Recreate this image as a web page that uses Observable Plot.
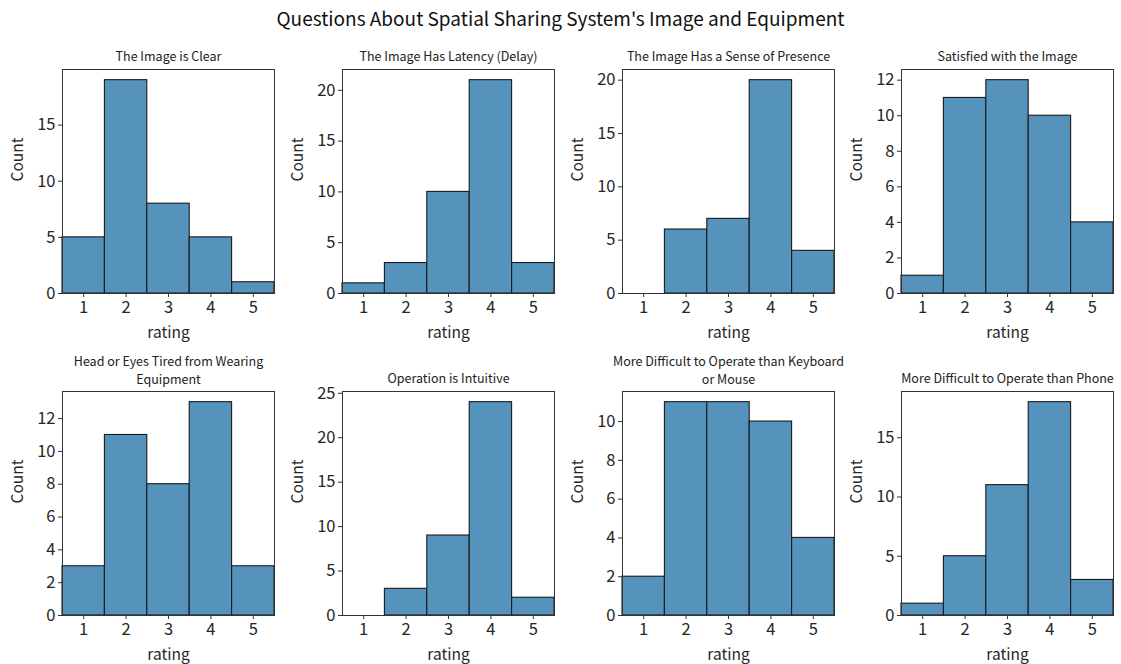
<!DOCTYPE html>
<html><head><meta charset="utf-8">
<script src="https://cdn.jsdelivr.net/npm/d3@7"></script>
<script src="https://cdn.jsdelivr.net/npm/@observablehq/plot@0.6"></script>
<style>
body{margin:0;background:#fff;}
#wrap{position:relative;width:1121px;height:664px;font-family:"Noto Sans CJK JP","Noto Sans",sans-serif;background:#fff;}
#title{position:absolute;left:0;width:1121px;top:4px;text-align:center;font-size:19px;color:#111;line-height:28px;}
.panel{position:absolute;}
.panel svg{overflow:visible;}
</style></head><body>
<div id="wrap"><div id="title">Questions About Spatial Sharing System's Image and Equipment</div></div>
<script>
const titles = [
  "The Image is Clear",
  "The Image Has Latency (Delay)",
  "The Image Has a Sense of Presence",
  "Satisfied with the Image",
  "Head or Eyes Tired from Wearing\nEquipment",
  "Operation is Intuitive",
  "More Difficult to Operate than Keyboard\nor Mouse",
  "More Difficult to Operate than Phone"
];
const ratings = [1, 2, 3, 4, 5];
const clearCounts = [5, 19, 8, 5, 1];
const latencyCounts = [1, 3, 10, 21, 3];
const presenceCounts = [0, 6, 7, 20, 4];
const satisfiedCounts = [1, 11, 12, 10, 4];
const tiredCounts = [3, 11, 8, 13, 3];
const intuitiveCounts = [0, 3, 9, 24, 2];
const keyboardCounts = [2, 11, 11, 10, 4];
const phoneCounts = [1, 5, 11, 18, 3];
const allCounts = [clearCounts, latencyCounts, presenceCounts, satisfiedCounts,
                   tiredCounts, intuitiveCounts, keyboardCounts, phoneCounts];
const xLabel = "rating";
const yLabel = "Count";

const FONT = '"Noto Sans CJK JP","Noto Sans",sans-serif';
const wrap = document.getElementById("wrap");
const colLeft = [0, 280, 560, 839];

allCounts.forEach((counts, i) => {
  const row = Math.floor(i / 4), col = i % 4;
  const data = ratings.map((r, j) => ({rating: r, count: counts[j]}));
  const maxC = d3.max(counts);
  const top = row === 0 ? 40 : 336;
  const marginTop = row === 0 ? 29 : 55;
  const multi = titles[i].includes("\n");
  const plot = Plot.plot({
    width: 280,
    height: marginTop + 224 + 50,
    marginLeft: 62, marginRight: 6, marginTop, marginBottom: 50,
    style: {fontFamily: FONT, fontSize: "16.5px", color: "#262626", background: "transparent", overflow: "visible"},
    x: {domain: [0.5, 5.5], label: null},
    y: {domain: [0, maxC * 1.05], label: null},
    marks: [
      Plot.rectY(data, {x1: d => d.rating - 0.5, x2: d => d.rating + 0.5, y1: 0, y2: "count",
        fill: "#5593bd", stroke: "#1a1a1a", strokeWidth: 1.1}),
      Plot.frame({stroke: "#333", strokeWidth: 1}),
      Plot.axisX({ticks: ratings, tickFormat: d => d, tickSize: 4, tickPadding: 4, label: null, stroke: "#333"}),
      Plot.axisY({ticks: 5, tickSize: 4, tickPadding: 3, label: null, stroke: "#333"}),
      Plot.text([xLabel], {text: d => d, frameAnchor: "bottom", dy: 40, lineAnchor: "middle", fontSize: 15.5, fill: "#262626"}),
      Plot.text([yLabel], {text: d => d, frameAnchor: "left", dx: -44, rotate: -90, lineAnchor: "middle", fontSize: 15.5, fill: "#262626"}),
      Plot.text([titles[i]], {text: d => d, frameAnchor: "top", dy: multi ? -7.5 : -9, lineAnchor: "bottom", fontSize: 12.5, lineHeight: 1.46, fill: "#222"})
    ]
  });
  const div = document.createElement("div");
  div.className = "panel";
  div.style.left = colLeft[col] + "px";
  div.style.top = top + "px";
  div.appendChild(plot);
  wrap.appendChild(div);
});
</script>
</body></html>
